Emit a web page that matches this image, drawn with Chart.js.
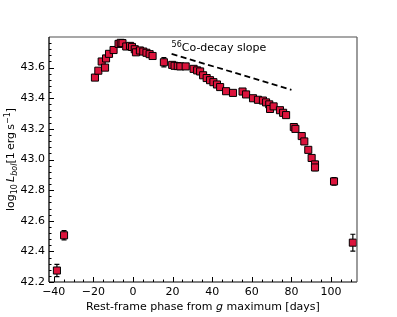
<!DOCTYPE html>
<html>
<head>
<meta charset="utf-8">
<script src="https://cdn.jsdelivr.net/npm/chart.js@4"></script>
<style>
    body { margin: 0; background: #fff; }
    #wrap { width: 397px; height: 317px; }
</style>
</head>
<body>
<div id="wrap"><canvas id="chart"></canvas></div>
<script>
// rest-frame phase (days) and log10 L_bol
const phase = [
    -38.4, -34.8, -19.2, -17.5, -15.8, -14.1, -13.6, -12.1, -9.8, -7.3,
    -6.2, -5.3, -3.4, -1.5, -0.5, 0.9, 1.5, 3.5, 5.2, 6.8,
    8.4, 9.9, 15.6, 19.8, 21.0, 22.6, 23.9, 26.6, 30.6, 32.4,
    33.9, 35.4, 37.2, 38.9, 40.6, 42.4, 44.0, 47.0, 50.5, 55.3,
    57.1, 60.6, 63.1, 65.6, 67.2, 68.8, 69.2, 71.0, 74.2, 75.8,
    77.3, 81.2, 82.0, 85.2, 86.5, 88.5, 90.2, 91.9, 91.9, 101.5,
    111.0,
];
const logL = [
    42.275, 42.505, 43.535, 43.58, 43.64, 43.60, 43.66, 43.69, 43.715, 43.755,
    43.762, 43.76, 43.738, 43.742, 43.735, 43.72, 43.70, 43.712, 43.705, 43.697,
    43.688, 43.676, 43.635, 43.618, 43.612, 43.61, 43.608, 43.608, 43.592, 43.582,
    43.575, 43.55, 43.532, 43.518, 43.505, 43.49, 43.473, 43.446, 43.435, 43.444,
    43.425, 43.40, 43.39, 43.385, 43.373, 43.36, 43.33, 43.347, 43.322, 43.305,
    43.29, 43.212, 43.20, 43.153, 43.118, 43.063, 43.01, 42.968, 42.948, 42.857,
    42.457,
];
const logLErr = [
    0.04, 0.03, 0.01, 0.01, 0.01, 0.01, 0.01, 0.01, 0.01, 0.01,
    0.01, 0.01, 0.01, 0.01, 0.01, 0.01, 0.01, 0.01, 0.01, 0.01,
    0.01, 0.01, 0.03, 0.01, 0.01, 0.01, 0.01, 0.01, 0.01, 0.01,
    0.01, 0.01, 0.01, 0.01, 0.01, 0.01, 0.01, 0.01, 0.01, 0.01,
    0.01, 0.01, 0.01, 0.01, 0.01, 0.01, 0.01, 0.01, 0.01, 0.01,
    0.01, 0.02, 0.01, 0.01, 0.01, 0.01, 0.01, 0.02, 0.02, 0.025,
    0.055,
];

// 56Co decay reference line
const coPhase = [19.5, 80];
const coLogL = [43.69, 43.455];
const coLabelAt = { x: 19.5, y: 43.71 };

const xTicks = [-40, -20, 0, 20, 40, 60, 80, 100];
const yTicks = [42.2, 42.4, 42.6, 42.8, 43.0, 43.2, 43.4, 43.6];

const font = "DejaVu Sans";
const red = "#DC143C";

const xMinor = [];
for (let v = -40; v <= 110; v += 5) if (v % 20 !== 0) xMinor.push(v);
const yMinor = [];
for (let i = 0; i <= 40; i++) {
    const v = Math.round((42.2 + i * 0.04) * 100) / 100;
    if (i % 5 !== 0 && v < 43.8) yMinor.push(v);
}

function richWidth(ctx, parts) {
    let w = 0;
    parts.forEach((p) => {
        ctx.font = p.font;
        w += ctx.measureText(p.t).width;
    });
    return w;
}

function drawRich(ctx, parts, x, y) {
    let cx = x;
    parts.forEach((p) => {
        ctx.font = p.font;
        ctx.fillText(p.t, cx, y + (p.dy || 0));
        cx += ctx.measureText(p.t).width;
    });
}

const big = `11px "${font}"`;
const small = `8px "${font}"`;
const bigIt = `italic 11px "${font}"`;
const smallIt = `italic 8px "${font}"`;

const decorations = {
    id: "decorations",
    beforeDatasetsDraw(chart) {
        const { ctx, scales: { x, y } } = chart;
        ctx.save();
        ctx.strokeStyle = "#000";
        ctx.lineWidth = 1.2;
        phase.forEach((p, i) => {
            const px = x.getPixelForValue(p);
            const top = y.getPixelForValue(logL[i] + logLErr[i]);
            const bot = y.getPixelForValue(logL[i] - logLErr[i]);
            ctx.beginPath();
            ctx.moveTo(px, top);
            ctx.lineTo(px, bot);
            ctx.moveTo(px - 2.5, top);
            ctx.lineTo(px + 2.5, top);
            ctx.moveTo(px - 2.5, bot);
            ctx.lineTo(px + 2.5, bot);
            ctx.stroke();
        });
        ctx.restore();
    },
    afterDraw(chart) {
        const { ctx, chartArea: a, scales: { x, y } } = chart;
        ctx.save();

        // spines
        ctx.lineWidth = 1.3;
        ctx.strokeStyle = "#8a8a8a";
        ctx.beginPath(); ctx.moveTo(a.left, a.top); ctx.lineTo(a.right, a.top); ctx.stroke();
        ctx.strokeStyle = "#666";
        ctx.beginPath(); ctx.moveTo(a.right, a.top); ctx.lineTo(a.right, a.bottom); ctx.stroke();
        ctx.strokeStyle = "#555";
        ctx.beginPath(); ctx.moveTo(a.left, a.bottom); ctx.lineTo(a.right, a.bottom); ctx.stroke();
        ctx.strokeStyle = "#000";
        ctx.beginPath(); ctx.moveTo(a.left, a.top); ctx.lineTo(a.left, a.bottom); ctx.stroke();

        // inward ticks
        ctx.strokeStyle = "#000";
        ctx.lineWidth = 1;
        const tick = (px, len, horiz) => {
            ctx.beginPath();
            if (horiz) { ctx.moveTo(a.left, px); ctx.lineTo(a.left + len, px); }
            else { ctx.moveTo(px, a.bottom); ctx.lineTo(px, a.bottom - len); }
            ctx.stroke();
        };
        xTicks.forEach((v) => tick(Math.round(x.getPixelForValue(v)) + 0.5, 5, false));
        xMinor.forEach((v) => tick(Math.round(x.getPixelForValue(v)) + 0.5, 2.5, false));
        yTicks.forEach((v) => tick(Math.round(y.getPixelForValue(v)) + 0.5, 5, true));
        yMinor.forEach((v) => tick(Math.round(y.getPixelForValue(v)) + 0.5, 2.5, true));

        ctx.fillStyle = "#000";
        ctx.textBaseline = "alphabetic";
        ctx.textAlign = "left";

        // annotation
        drawRich(ctx, [
            { t: "56", font: small, dy: -4 },
            { t: "Co-decay slope", font: big },
        ], x.getPixelForValue(coLabelAt.x), y.getPixelForValue(coLabelAt.y));

        // x title
        const xParts = [
            { t: "Rest-frame phase from ", font: big },
            { t: "g", font: bigIt },
            { t: " maximum [days]", font: big },
        ];
        const cx = (a.left + a.right) / 2;
        drawRich(ctx, xParts, cx - richWidth(ctx, xParts) / 2, 310);

        // y title
        const yParts = [
            { t: "log", font: big },
            { t: "10", font: small, dy: 3 },
            { t: "\u2009", font: big },
            { t: "L", font: bigIt },
            { t: "bol", font: smallIt, dy: 3 },
            { t: "[1\u2009erg\u2009s", font: big },
            { t: "\u22121", font: small, dy: -4 },
            { t: "]", font: big },
        ];
        ctx.translate(14, (a.top + a.bottom) / 2);
        ctx.rotate(-Math.PI / 2);
        drawRich(ctx, yParts, -richWidth(ctx, yParts) / 2, 0);
        ctx.restore();
    },
};

new Chart(document.getElementById("chart"), {
    type: "scatter",
    data: {
        datasets: [
            {
                label: "L_bol",
                data: phase.map((p, i) => ({ x: p, y: logL[i] })),
                pointStyle: "rect",
                pointRadius: 5,
                pointBackgroundColor: red,
                pointBorderColor: "#000",
                pointBorderWidth: 1,
                showLine: false,
            },
            {
                label: "Co decay",
                type: "line",
                data: coPhase.map((p, i) => ({ x: p, y: coLogL[i] })),
                borderColor: "#000",
                borderWidth: 1.8,
                borderDash: [6, 3.5],
                pointRadius: 0,
                fill: false,
            },
        ],
    },
    options: {
        responsive: true,
        maintainAspectRatio: false,
        animation: false,
        devicePixelRatio: 1,
        layout: { padding: { top: 37, right: 40, left: 0, bottom: 0 } },
        plugins: { legend: { display: false }, tooltip: { enabled: false } },
        scales: {
            x: {
                type: "linear",
                min: -42.4,
                max: 113.1,
                grid: { display: false, drawTicks: false },
                border: { display: false },
                afterBuildTicks: (s) => { s.ticks = xTicks.map((v) => ({ value: v })); },
                afterFit: (s) => { s.height = 35; },
                ticks: {
                    padding: 4,
                    color: "#000",
                    font: { family: font, size: 11 },
                    maxRotation: 0,
                    callback: (v) => String(v).replace("-", "\u2212"),
                },
            },
            y: {
                type: "linear",
                min: 42.2,
                max: 43.8,
                grid: { display: false, drawTicks: false },
                border: { display: false },
                afterBuildTicks: (s) => { s.ticks = yTicks.map((v) => ({ value: v })); },
                afterFit: (s) => { s.width = 49; },
                ticks: {
                    padding: 4,
                    color: "#000",
                    font: { family: font, size: 11 },
                    callback: (v) => Number(v).toFixed(1),
                },
            },
        },
    },
    plugins: [decorations],
});
</script>
</body>
</html>
